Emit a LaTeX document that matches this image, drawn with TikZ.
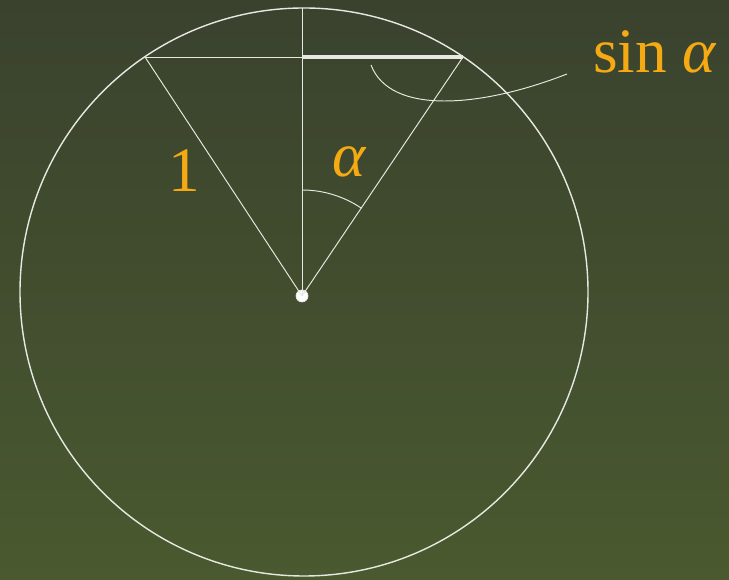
\documentclass[tikz,border=0pt]{standalone}
\usepackage{fontspec}
\setmainfont{Liberation Serif}
\definecolor{bgtop}{RGB}{58,66,46}
\definecolor{bgbot}{RGB}{74,89,47}
\definecolor{lbl}{RGB}{245,170,20}
\definecolor{chalk}{RGB}{232,232,226}
\tikzset{
  thinline/.style={chalk,line width=0.55pt},
  lbltext/.style={lbl,font=\fontsize{36}{40}\selectfont,anchor=base}
}
\begin{document}
\begin{tikzpicture}[x=0.02cm,y=0.02cm]
                \fill[top color=bgtop,bottom color=bgbot] (0,0) rectangle (729,580);
                \useasboundingbox (0,0) rectangle (729,580);
                \draw[chalk,line width=0.8pt] (304,288) circle[radius=284];
                \coordinate (T) at (302,572);
                \coordinate (A) at (145,523);
                \coordinate (B) at (463,523);
                \coordinate (M) at (302,523);
                \node[circle,fill=white,draw=chalk,inner sep=0pt,minimum size=0.24cm] (O) at (302,284) {};
                \draw[thinline] (O.center) -- (T);
                \draw[thinline] (A) -- (M);
                \draw[thinline] (O.center) -- (A);
                \draw[thinline] (O.center) -- (B);
                \draw[chalk,line width=2.8pt] (M) -- (B);
                \draw[thinline] (302,390) arc[start angle=90,end angle=56,radius=106];
                \node[lbltext] (one) at (184,388) {1};
                \node[lbltext] (alpha) at (350,403) {\textit{α}};
                \node[lbltext] (sina) at (655,507) {sin \textit{α}};
                \coordinate (s) at (371,515);
                \coordinate (e) at (567,506);
                \draw[thinline] (s) .. controls (390,465) and (480,472) .. (e);
            \end{tikzpicture}
\end{document}
